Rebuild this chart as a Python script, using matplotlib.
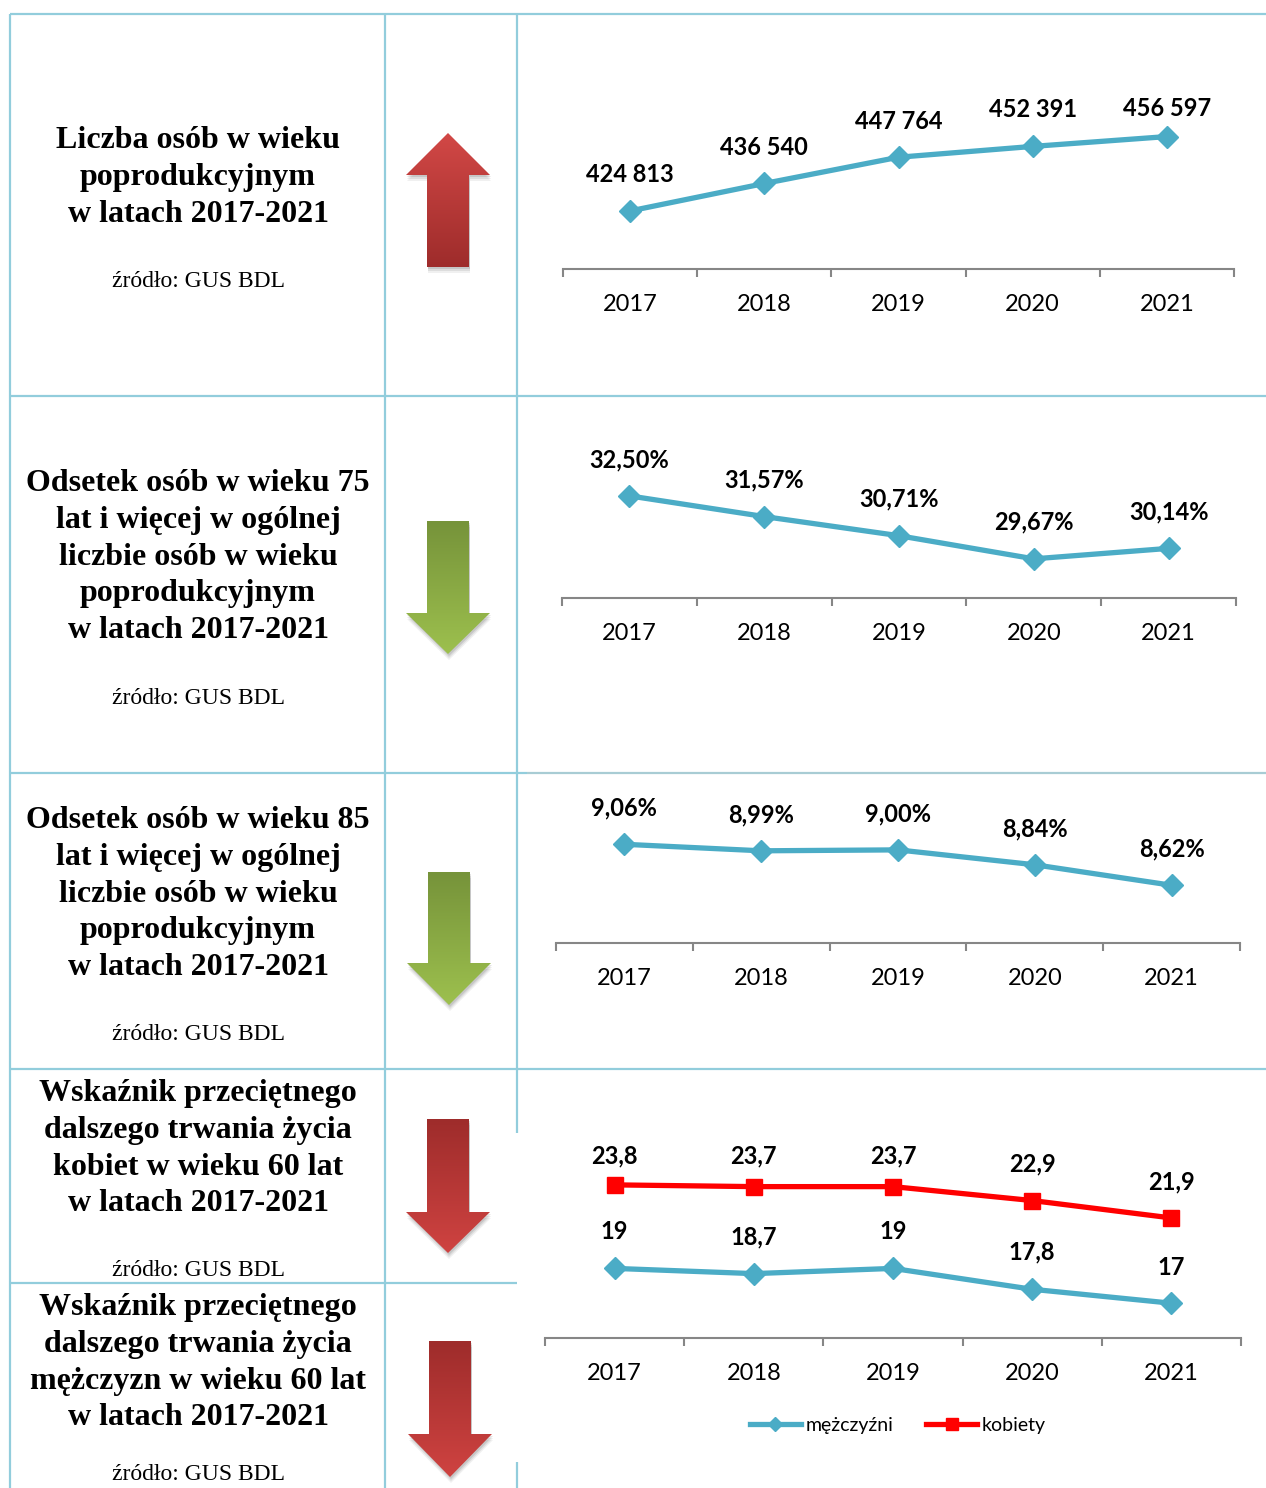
import numpy as np
import matplotlib
matplotlib.use("Agg")
import matplotlib.pyplot as plt
from matplotlib.patches import Polygon
from matplotlib.colors import LinearSegmentedColormap
from matplotlib.lines import Line2D

W, H = 1266, 1488

years = ["2017", "2018", "2019", "2020", "2021"]
post_working = [424813, 436540, 447764, 452391, 456597]
share_75 = [32.50, 31.57, 30.71, 29.67, 30.14]
share_85 = [9.06, 8.99, 9.00, 8.84, 8.62]
life_women = [23.8, 23.7, 23.7, 22.9, 21.9]
life_men = [19.0, 18.7, 19.0, 17.8, 17.0]

titles = [
    ["Liczba osób w wieku", "poprodukcyjnym", "w latach 2017-2021"],
    ["Odsetek osób w wieku 75", "lat i więcej w ogólnej", "liczbie osób w wieku",
     "poprodukcyjnym", "w latach 2017-2021"],
    ["Odsetek osób w wieku 85", "lat i więcej w ogólnej", "liczbie osób w wieku",
     "poprodukcyjnym", "w latach 2017-2021"],
    ["Wskaźnik przeciętnego", "dalszego trwania życia", "kobiet w wieku 60 lat",
     "w latach 2017-2021"],
    ["Wskaźnik przeciętnego", "dalszego trwania życia", "mężczyzn w wieku 60 lat",
     "w latach 2017-2021"],
]
source = "źródło: GUS BDL"

BORDER = "#92CDDC"
BLUE = "#4BACC6"
RED = "#FF0000"
CHART_FONT = "Lato"
TITLE_FONT = "Liberation Serif"

fig = plt.figure(figsize=(W / 100, H / 100), dpi=100)
bg = fig.add_axes([0, 0, 1, 1])
bg.set_axis_off()


def hline(y, x0, x1, color=BORDER):
    bg.plot([x0, x1], [y, y], color=color, lw=1.6, solid_capstyle="butt")


def vline(x, y0, y1, color=BORDER):
    bg.plot([x, x], [y0, y1], color=color, lw=1.6, solid_capstyle="butt")


# table grid
hline(14, 10, 1266)
hline(396, 10, 1266)
hline(773, 10, 527)
hline(773, 527, 1266, color="#A8CCD4")
hline(1069, 10, 1266)
hline(1283, 10, 517)
vline(10, 14, 1488)
vline(385, 14, 1488)
vline(517, 14, 1133)
vline(517, 1462, 1488)

# left column texts
title_first = [137, 480, 817, 1090, 1304]
source_y = [279, 696, 1032, 1268, 1472]
for lines, ty, sy in zip(titles, title_first, source_y):
    for k, line in enumerate(lines):
        bg.text(198, ty + 36.8 * k, line, ha="center", va="center_baseline",
                fontsize=23, fontweight="bold", family=TITLE_FONT)
    bg.text(198, sy, source, ha="center", va="center_baseline", fontsize=17, family=TITLE_FONT)


def arrow(cx, sh, hh, tail_y, base_y, tip_y, c_top, c_bot):
    verts = [(cx, tip_y), (cx + hh, base_y), (cx + sh, base_y), (cx + sh, tail_y),
             (cx - sh, tail_y), (cx - sh, base_y), (cx - hh, base_y)]
    for k, a in [(6, 0.06), (4, 0.08), (2, 0.10)]:
        bg.add_patch(Polygon([(x + 1, y + k) for x, y in verts], closed=True,
                             fc="#000000", alpha=a, ec="none", zorder=2))
    poly = Polygon(verts, closed=True, fc="none", ec="none", zorder=3)
    bg.add_patch(poly)
    ys = [v[1] for v in verts]
    cmap = LinearSegmentedColormap.from_list("g", [c_top, c_bot])
    grad = np.linspace(0, 1, 256).reshape(-1, 1)
    im = bg.imshow(grad, cmap=cmap, aspect="auto", zorder=3,
                   extent=(cx - hh, cx + hh, max(ys), min(ys)))
    im.set_clip_path(poly)


arrow(448, 21, 42, 267, 175, 133, "#D24846", "#9E2C2B")
arrow(448, 21, 42, 521, 613, 654, "#76933A", "#9DC04E")
arrow(449, 21, 42, 872, 963, 1005, "#76933A", "#9DC04E")
arrow(448, 21, 42, 1119, 1212, 1253, "#9E2C2B", "#CF4341")
arrow(450, 21, 42, 1341, 1434, 1477, "#9E2C2B", "#CF4341")

bg.set_xlim(0, W)
bg.set_ylim(H, 0)


def chart_axes(x0, x1, y_top, y_axis):
    ax = fig.add_axes([x0 / W, 1 - y_axis / H, (x1 - x0) / W, (y_axis - y_top) / H])
    ax.patch.set_alpha(0)
    for s in ["left", "right", "top"]:
        ax.spines[s].set_visible(False)
    ax.spines["bottom"].set_color("#868686")
    ax.spines["bottom"].set_linewidth(1.5)
    ax.set_xlim(-0.5, 4.5)
    ax.set_xticks(range(5))
    ax.set_xticklabels(years, fontsize=17, family=CHART_FONT)
    ax.set_xticks(np.arange(-0.5, 5, 1), minor=True)
    ax.tick_params(axis="x", which="major", length=0, pad=18)
    ax.tick_params(axis="x", which="minor", length=6, width=1.5, color="#868686", direction="out")
    ax.set_yticks([])
    return ax


def series(ax, vals, labels, color, marker, ms, offsets):
    ax.plot(range(5), vals, color=color, lw=3.8, marker=marker, ms=ms, clip_on=False)
    for i, (v, lab, off) in enumerate(zip(vals, labels, offsets)):
        ax.annotate(lab, (i, v), xytext=(0, off), textcoords="offset pixels",
                    ha="center", va="center", fontsize=17, fontweight="bold",
                    family=CHART_FONT, annotation_clip=False)


ax1 = chart_axes(563, 1234, 35, 269)
ax1.set_ylim(400000, 500000)
series(ax1, post_working, [f"{v:,}".replace(",", " ") for v in post_working], BLUE, "D", 11,
       [36, 36, 36, 37, 28])

ax2 = chart_axes(562, 1236, 420, 598)
ax2.set_ylim(27.91, 35.91)
series(ax2, share_75, [f"{v:.2f}%".replace(".", ",") for v in share_75], BLUE, "D", 11,
       [36, 37, 37, 37, 36])

ax3 = chart_axes(556, 1240, 794, 943)
ax3.set_ylim(8.0, 9.6)
series(ax3, share_85, [f"{v:.2f}%".replace(".", ",") for v in share_85], BLUE, "D", 11,
       [36, 36, 36, 36, 36])

ax4 = chart_axes(545, 1241, 1164, 1338)
ax4.set_ylim(15, 25)
series(ax4, life_men, [f"{v:g}".replace(".", ",") for v in life_men], BLUE, "D", 11,
       [37, 37, 37, 37, 36])
series(ax4, life_women, [f"{v:g}".replace(".", ",") for v in life_women], RED, "s", 12,
       [29, 31, 31, 37, 36])

handles = [Line2D([], [], color=BLUE, lw=3.8, marker="D", ms=7),
           Line2D([], [], color=RED, lw=3.8, marker="s", ms=9)]
fig.legend(handles, ["mężczyźni", "kobiety"], loc="center", ncol=2, frameon=False,
           bbox_to_anchor=(898 / W, 1 - 1425 / H), prop={"family": CHART_FONT, "size": 14},
           handlelength=2.6, handletextpad=0.25, columnspacing=1.7)

fig.savefig("out.png", dpi=100)
